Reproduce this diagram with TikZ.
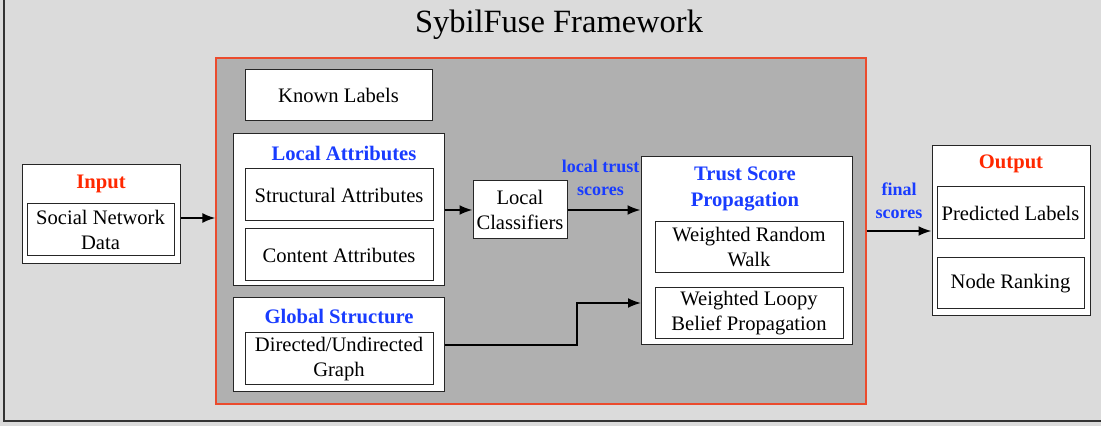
\documentclass[tikz,border=0pt]{standalone}
\usepackage{fontspec}
\setmainfont{Liberation Serif}
\usetikzlibrary{arrows.meta}
\definecolor{bgc}{RGB}{219,219,219}
\definecolor{corec}{RGB}{176,176,176}
\definecolor{redc}{RGB}{255,40,0}
\definecolor{bluec}{RGB}{25,60,255}
\definecolor{edgec}{RGB}{235,75,45}
\begin{document}
\begin{tikzpicture}[x=0.5pt,y=-0.5pt,
  box/.style={draw=black!85, fill=white, line width=0.5pt, inner sep=1pt, align=center,
    font=\fontsize{10.3}{12.5}\selectfont},
  ttl/.style={inner sep=0pt, align=center, font=\fontsize{10.3}{13}\selectfont\bfseries},
  elbl/.style={inner sep=0pt, align=center, text=bluec, font=\fontsize{9}{11.3}\selectfont\bfseries},
  arr/.style={line width=1pt, -{Latex[length=6.5pt,width=5pt]}}]
\useasboundingbox (0,0) rectangle (1101,426);
\fill[bgc] (0,0) rectangle (1101,426);
\draw[line width=0.6pt, draw=black!80] (4,-20) rectangle (1120,421);
\node[inner sep=0pt, font=\fontsize{16.25}{19}\selectfont] (title) at (559,25) {SybilFuse Framework};
% core framework
\node[draw=edgec, fill=corec, line width=0.6pt, minimum width=325pt, minimum height=173pt, inner sep=0pt] (core) at (541,231) {};
\node[box, minimum width=93.5pt, minimum height=25.5pt] (kl) at (338.5,95.5) {Known Labels};
\node[box, minimum width=105.5pt, minimum height=76pt] (la) at (338.5,210) {};
\node[ttl, text=bluec] (latitle) at (344,153) {Local Attributes};
\node[box, minimum width=94pt, minimum height=26pt] (sa) at (339,195) {Structural Attributes};
\node[box, minimum width=94pt, minimum height=26pt] (ca) at (339,255) {Content Attributes};
\node[box, minimum width=105.5pt, minimum height=47pt] (gs) at (338.5,345) {};
\node[ttl, text=bluec] (gstitle) at (339,316) {Global Structure};
\node[box, minimum width=94pt, minimum height=26pt] (dg) at (339,359) {Directed/Undirected\\Graph};
\node[box, minimum width=47pt, minimum height=29pt] (lc) at (520,210) {Local\\Classifiers};
\node[box, minimum width=105.5pt, minimum height=94pt] (tr) at (746.5,251) {};
\node[ttl, text=bluec] (trtitle) at (745,189) {Trust Score\\Propagation};
\node[box, minimum width=94pt, minimum height=25.5pt] (wr) at (749,247.5) {Weighted Random\\Walk};
\node[box, minimum width=94pt, minimum height=25.5pt] (wl) at (749,313.5) {Weighted Loopy\\Belief Propagation};
% input
\node[box, minimum width=79pt, minimum height=49.5pt] (in) at (101,214.5) {};
\node[ttl, text=redc] (intitle) at (101,184) {Input};
\node[box, minimum width=73.5pt, minimum height=26pt] (sn) at (100.5,230) {Social Network\\Data};
% output
\node[box, minimum width=79pt, minimum height=85pt] (out) at (1011,231) {};
\node[ttl, text=redc] (outtitle) at (1011,164) {Output};
\node[box, minimum width=73.5pt, minimum height=26pt] (pl) at (1010.5,213) {Predicted Labels};
\node[box, minimum width=73.5pt, minimum height=25.5pt] (nr) at (1010.5,283.5) {Node Ranking};
% edge labels
\node[elbl] (ltlbl) at (600.5,178) {local trust\\scores};
\node[elbl] (fslbl) at (899,201) {final\\scores};
% connectors
\coordinate (bendx) at (577,0);
\coordinate (trin) at (641,303);
\draw[arr] (in.east |- 0,218) -- (core.west |- 0,218);
\draw[arr] (la) -- (lc);
\draw[arr] (lc.east) -- (lc.east -| tr.west);
\draw[arr] (gs.east) -- (gs.east -| bendx) |- (trin);
\draw[arr] (core.east |- out.west) -- (out.west);
\end{tikzpicture}
\end{document}
